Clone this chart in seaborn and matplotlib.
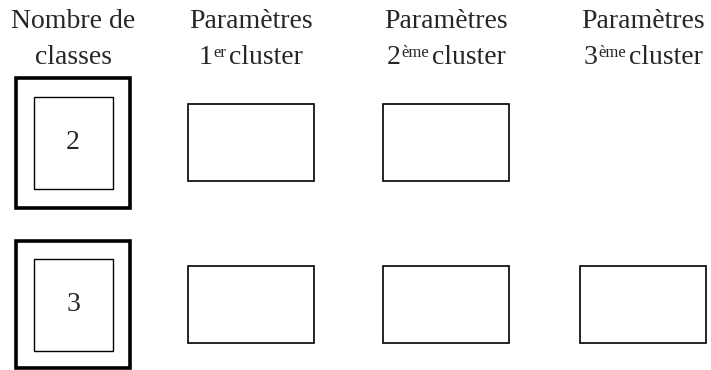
import matplotlib.pyplot as plt
import seaborn as sns
from matplotlib.patches import Rectangle

# table content
headers_top = ["Nombre de", "Paramètres", "Paramètres", "Paramètres"]
headers_main = ["classes", "1", "2", "3"]
headers_sup = ["", "er", "ème", "ème"]
headers_tail = ["", "cluster", "cluster", "cluster"]
class_counts = ["2", "3"]
clusters_per_row = [2, 3]

# layout (pixels)
col_x = [73, 251, 446, 643]
row_y = [142.5, 304.5]
outer_w, outer_h = [114, 114], [130, 127]
inner_w, inner_h = 79, 92
box_w, box_h = 126, 77

sns.set_style("white")
plt.rcParams["font.family"] = ["Liberation Serif", "DejaVu Serif"]

fig = plt.figure(figsize=(7.11, 3.70), dpi=100)
ax = fig.add_axes([0, 0, 1, 1])
ax.set_xlim(0, 711)
ax.set_ylim(370, 0)
ax.axis("off")
renderer = fig.canvas.get_renderer()

fs = 20
sup_fs = 12


def width_px(s, size):
    t = ax.text(0, 0, s, fontsize=size)
    w = t.get_window_extent(renderer).width
    t.remove()
    return w


for x, top, main, sup, tail in zip(col_x, headers_top, headers_main, headers_sup, headers_tail):
    ax.text(x, 22, top, ha="center", va="center", fontsize=fs)
    if not sup:
        ax.text(x, 57, main, ha="center", va="center", fontsize=fs)
        continue
    parts = [(main, fs, 0, 1), (sup, sup_fs, -7, 3), (tail, fs, 0, 0)]
    widths = [width_px(s, size) + gap for s, size, _, gap in parts]
    left = x - sum(widths) / 2
    for (s, size, dy, _), w in zip(parts, widths):
        ax.text(left, 64 + dy, s, ha="left", va="baseline", fontsize=size)
        left += w

for i, (y, k, n) in enumerate(zip(row_y, class_counts, clusters_per_row)):
    cx = col_x[0]
    ax.add_patch(Rectangle((cx - outer_w[i] / 2, y - outer_h[i] / 2), outer_w[i], outer_h[i],
                           fill=False, lw=2.6, ec="black"))
    ax.add_patch(Rectangle((cx - inner_w / 2, y - inner_h / 2), inner_w, inner_h,
                           fill=False, lw=1.0, ec="black"))
    ax.text(cx, y, k, ha="center", va="center", fontsize=fs)
    for j in range(n):
        bx = col_x[j + 1]
        ax.add_patch(Rectangle((bx - box_w / 2, y - box_h / 2), box_w, box_h,
                               fill=False, lw=1.2, ec="black"))

fig.savefig("out.png", dpi=100)
